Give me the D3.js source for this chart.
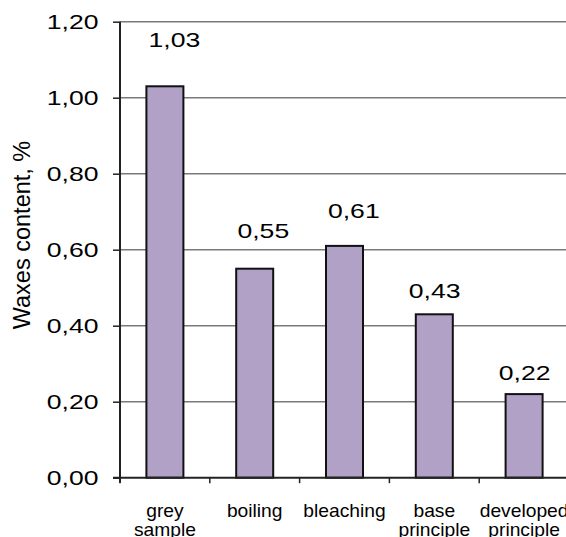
<!DOCTYPE html>
<html>
<head>
<meta charset="utf-8">
<script src="https://cdn.jsdelivr.net/npm/d3@7"></script>
<style>
  html, body { margin: 0; padding: 0; background: #fff; }
  svg { display: block; overflow: hidden; }
  text { font-family: "Liberation Sans", Arial, sans-serif; fill: #000; }
</style>
</head>
<body>
<svg id="chart" width="566" height="537"></svg>
<script>
// Wax content after each treatment stage
const categories = [["grey", "sample"], ["boiling"], ["bleaching"], ["base", "principle"], ["developed", "principle"]];
const waxValues = [1.03, 0.55, 0.61, 0.43, 0.22];
const yTicks = [0, 0.2, 0.4, 0.6, 0.8, 1.0, 1.2];
const yTitle = "Waxes content, %";

const fmt = v => v.toFixed(2).replace(".", ",");

const svg = d3.select("#chart");
const plotLeft = 120, plotRight = 569, plotTop = 21.7, plotBottom = 477.7;

const x = d3.scaleBand().domain(d3.range(categories.length)).range([plotLeft, plotRight]).paddingInner(0).paddingOuter(0);
const y = d3.scaleLinear().domain([0, 1.2]).range([plotBottom, plotTop]);
const barWidth = 37;

// horizontal gridlines
svg.append("g")
  .selectAll("line")
  .data(yTicks.filter(t => t > 0))
  .join("line")
  .attr("x1", plotLeft).attr("x2", 566)
  .attr("y1", d => y(d)).attr("y2", d => y(d))
  .attr("stroke", "#7a7a7a").attr("stroke-width", 1.6);

// bars
svg.append("g")
  .selectAll("rect")
  .data(waxValues)
  .join("rect")
  .attr("x", (d, i) => x(i) + x.bandwidth() / 2 - barWidth / 2)
  .attr("width", barWidth)
  .attr("y", d => y(d))
  .attr("height", d => y(0) - y(d))
  .attr("fill", "#b1a1c7")
  .attr("stroke", "#111")
  .attr("stroke-width", 2);

// y axis
const yAxis = d3.axisLeft(y).tickValues(yTicks).tickSize(7).tickFormat(() => "");
const gy = svg.append("g").attr("transform", `translate(${plotLeft},0)`).call(yAxis);
gy.select(".domain").attr("d", `M0,${plotTop}V${plotBottom + 5}`).attr("stroke", "#222").attr("stroke-width", 2);
gy.selectAll(".tick line").attr("stroke", "#222").attr("stroke-width", 1.5);

// y tick labels, drawn wide
svg.append("g")
  .selectAll("text")
  .data(yTicks)
  .join("text")
  .attr("transform", d => `translate(98.5,${y(d) + 7.3}) scale(1.33,1)`)
  .attr("text-anchor", "end")
  .attr("font-size", 20)
  .text(fmt);

// x axis
const xAxis = d3.axisBottom(x).tickSize(0).tickFormat(() => "");
const gx = svg.append("g").attr("transform", `translate(0,${plotBottom})`).call(xAxis);
gx.select(".domain").attr("d", `M${plotLeft - 7},0H566`).attr("stroke", "#222").attr("stroke-width", 2);
// category boundary ticks
svg.append("g")
  .selectAll("line")
  .data(d3.range(categories.length))
  .join("line")
  .attr("x1", i => x(i)).attr("x2", i => x(i))
  .attr("y1", plotBottom).attr("y2", plotBottom + 5.5)
  .attr("stroke", "#222").attr("stroke-width", 1.5);

// category labels
const cat = svg.append("g")
  .selectAll("text")
  .data(categories)
  .join("text")
  .attr("text-anchor", "middle")
  .attr("font-size", 17.5)
  .attr("transform", (d, i) => `translate(${x(i) + x.bandwidth() / 2},517) scale(1.1,1)`);
cat.selectAll("tspan")
  .data(d => d)
  .join("tspan")
  .attr("x", 0)
  .attr("dy", (d, j) => j === 0 ? 0 : 19.5)
  .text(d => d);

// value labels above the bars
const labelNudge = [[9.5, -39.6], [8.6, -30.4], [9.3, -27.6], [0.4, -16], [0.6, -14.2]];
svg.append("g")
  .selectAll("text")
  .data(waxValues)
  .join("text")
  .attr("text-anchor", "middle")
  .attr("font-size", 20)
  .attr("transform", (d, i) => `translate(${x(i) + x.bandwidth() / 2 + labelNudge[i][0]},${y(d) + labelNudge[i][1]}) scale(1.33,1)`)
  .text(fmt);

// y axis title
svg.append("text")
  .attr("transform", `translate(30,235) rotate(-90)`)
  .attr("text-anchor", "middle")
  .attr("font-size", 23.5)
  .text(yTitle);
</script>
</body>
</html>
